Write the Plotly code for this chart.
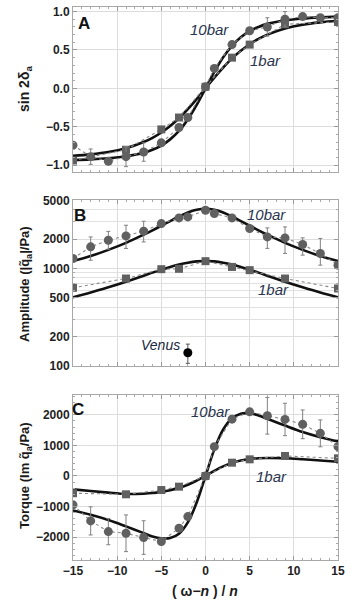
import plotly.graph_objects as go

# ---------------- data ----------------
fit_x = [-15, -13, -11, -9, -7, -6, -5, -4, -3, -2, -1, 0, 1, 2, 3, 4, 5, 6, 7, 9, 11, 13, 15]

sin_fit_10 = [-0.935, -0.925, -0.91, -0.885, -0.84, -0.80, -0.745, -0.665, -0.555, -0.405, -0.215, 0,
              0.215, 0.405, 0.555, 0.665, 0.745, 0.80, 0.84, 0.885, 0.91, 0.925, 0.935]
sin_fit_1 = [-0.88, -0.86, -0.83, -0.78, -0.70, -0.645, -0.575, -0.49, -0.39, -0.27, -0.14, 0,
             0.14, 0.27, 0.39, 0.49, 0.575, 0.645, 0.70, 0.78, 0.83, 0.86, 0.88]
amp_fit_10 = [1190, 1340, 1550, 1830, 2220, 2460, 2740, 3060, 3410, 3750, 4000, 4100,
              4000, 3750, 3410, 3060, 2740, 2460, 2220, 1830, 1550, 1340, 1190]
amp_fit_1 = [505, 565, 640, 730, 840, 905, 970, 1035, 1095, 1145, 1180, 1190,
             1180, 1145, 1095, 1035, 970, 905, 840, 730, 640, 565, 505]
tq_fit_10 = [-1130, -1270, -1440, -1650, -1870, -1980, -2040, -2030, -1890, -1520, -870, 0,
             870, 1520, 1890, 2040, 2050, 1980, 1870, 1650, 1440, 1270, 1130]
tq_fit_1 = [-440, -490, -545, -590, -580, -560, -520, -465, -385, -285, -150, 0,
            165, 312, 428, 508, 557, 582, 590, 580, 546, 506, 466]

x10 = [-15, -13, -11, -9, -7, -5, -3, -2, 0, 1, 3, 5, 7, 9, 11, 13, 15]
x1 = [-15, -9, -5, -3, 0, 3, 5, 9, 15]

sin10 = [-0.74, -0.89, -0.95, -0.89, -0.83, -0.71, -0.51, -0.38, 0.02, 0.26, 0.57, 0.75, 0.80, 0.90, 0.935, 0.92, 0.92]
sin10_err = [0, 0.10, 0.02, 0.13, 0.12, 0.03, 0, 0, 0, 0, 0, 0, 0.12, 0.10, 0.03, 0.04, 0.04]
sin1 = [-0.94, -0.80, -0.535, -0.38, 0.02, 0.40, 0.57, 0.835, 0.865]

amp10 = [1262, 1663, 1945, 2153, 2409, 2885, 3296, 3376, 3955, 3656, 3296, 2564, 2105, 2055, 1758, 1420, 1080]
amp10_up = [0, 440, 455, 620, 640, 0, 0, 0, 0, 0, 0, 0, 500, 610, 300, 610, 0]
amp10_dn = [0, 450, 370, 550, 540, 0, 0, 0, 0, 0, 0, 0, 500, 630, 390, 340, 0]
amp1 = [632, 787, 981, 990, 1186, 1035, 959, 787, 622]

venus_x = [-2]
venus_amp = [136]
venus_up = [31]
venus_dn = [30]

tq10 = [-948, -1470, -1820, -1875, -2015, -2145, -1710, -1330, 0, 960, 1860, 2100, 1970, 1850, 1690, 1395, 960]
tq10_err = [0, 460, 430, 600, 550, 80, 0, 0, 0, 0, 0, 0, 600, 530, 470, 440, 0]
tq1 = [-565, -600, -460, -350, 0, 435, 545, 655, 578]

x_ticks = [-15, -10, -5, 0, 5, 10, 15]
x_ticktext = ["\u221215", "\u221210", "\u22125", "0", "5", "10", "15"]
sin_ticks = [-1.0, -0.5, 0.0, 0.5, 1.0]
sin_ticktext = ["\u22121.0", "\u22120.5", "0.0", "0.5", "1.0"]
amp_ticks = [100, 200, 500, 1000, 2000, 5000]
amp_ticktext = ["100", "200", "500", "1000", "2000", "5000"]
amp_minor = [300, 400, 600, 700, 800, 900, 3000, 4000]
tq_ticks = [-2000, -1000, 0, 1000, 2000]
tq_ticktext = ["\u22122000", "\u22121000", "0", "1000", "2000"]

# ---------------- style ----------------
FONT = "Liberation Sans, Arial, sans-serif"
MK = "#606060"
ERR = "#808080"
LBL = "#2a3550"
FIT = "#111111"

fig = go.Figure()

panels = [
    ("x", "y", sin_fit_10, sin_fit_1, sin10, dict(type="data", array=sin10_err, color=ERR, thickness=1, width=2), sin1),
    ("x2", "y2", amp_fit_10, amp_fit_1, amp10, dict(type="data", array=amp10_up, arrayminus=amp10_dn, color=ERR, thickness=1, width=2), amp1),
    ("x3", "y3", tq_fit_10, tq_fit_1, tq10, dict(type="data", array=tq10_err, color=ERR, thickness=1, width=2), tq1),
]

for xa, ya, f10, f1, d10, e10, d1 in panels:
    for f in (f10, f1):
        fig.add_trace(go.Scatter(x=fit_x, y=f, xaxis=xa, yaxis=ya, mode="lines",
                                 line=dict(color=FIT, width=2.6, shape="spline", smoothing=1.0),
                                 showlegend=False, hoverinfo="skip"))
    fig.add_trace(go.Scatter(x=x1, y=d1, xaxis=xa, yaxis=ya, mode="lines+markers",
                             line=dict(color="#8a8a8a", width=1.1, dash="dot"),
                             marker=dict(symbol="square", size=8, color=MK),
                             showlegend=False))
    fig.add_trace(go.Scatter(x=x10, y=d10, xaxis=xa, yaxis=ya, mode="lines+markers",
                             line=dict(color="#8a8a8a", width=1.1, dash="dot"),
                             marker=dict(symbol="circle", size=9, color=MK),
                             error_y=e10, showlegend=False))

fig.add_trace(go.Scatter(x=venus_x, y=venus_amp, xaxis="x2", yaxis="y2", mode="markers",
                         marker=dict(symbol="circle", size=9, color="#000000"),
                         error_y=dict(type="data", array=venus_up, arrayminus=venus_dn,
                                      color="#555555", thickness=1, width=2),
                         showlegend=False))

W, H = 358, 603
ML, MR, MT, MB = 73, 20, 7, 43
ph = H - MT - MB
pw = W - ML - MR

def dom(top_px, bot_px):
    return [(H - MB - bot_px) / ph, (H - MB - top_px) / ph]

TICKF = dict(family=FONT, size=12, color="#1e1e1e", weight="bold")
common_x = dict(range=[-15, 15], tickvals=x_ticks, ticktext=x_ticktext, showgrid=True,
                gridcolor="#dddddd", gridwidth=1, zeroline=False, showline=True, linecolor="#a8a8a8",
                linewidth=1, mirror="allticks", ticks="inside", ticklen=4, tickcolor="#999999",
                minor=dict(dtick=1, ticks="inside", ticklen=2, tickcolor="#aaaaaa", showgrid=False),
                tickfont=TICKF, automargin=False)
common_y = dict(showgrid=True, gridcolor="#dddddd", gridwidth=1, zeroline=False, showline=True,
                linecolor="#a8a8a8", linewidth=1, mirror="allticks", ticks="inside", ticklen=4,
                tickcolor="#999999", tickfont=TICKF, automargin=False)

fig.update_layout(
    width=W, height=H, margin=dict(l=ML, r=MR, t=MT, b=MB, pad=0, autoexpand=False),
    paper_bgcolor="white", plot_bgcolor="white",
    xaxis=dict(common_x, domain=[0, 1], anchor="y", showticklabels=False),
    xaxis2=dict(common_x, domain=[0, 1], anchor="y2", showticklabels=False),
    xaxis3=dict(common_x, domain=[0, 1], anchor="y3", showticklabels=True),
    yaxis=dict(common_y, domain=dom(7, 172), anchor="x", range=[-1.09, 1.06],
               tickvals=sin_ticks, ticktext=sin_ticktext,
               minor=dict(dtick=0.1, ticks="inside", ticklen=2, tickcolor="#aaaaaa", showgrid=False)),
    yaxis2=dict(common_y, domain=dom(200, 366), anchor="x2", type="log", range=[1.998, 3.702],
                tickvals=amp_ticks, ticktext=amp_ticktext,
                minor=dict(tickvals=amp_minor, ticks="inside", ticklen=2, tickcolor="#aaaaaa",
                           showgrid=True, gridcolor="#e2e2e2", gridwidth=1)),
    yaxis3=dict(common_y, domain=dom(395, 560), anchor="x3", range=[-2750, 2650],
                tickvals=tq_ticks, ticktext=tq_ticktext,
                minor=dict(dtick=200, ticks="inside", ticklen=2, tickcolor="#aaaaaa", showgrid=False)),
)

ann = []
def lab(text, x, y, xr, yr, size=15, color=LBL, italic=True, bold=False):
    t = text
    if italic:
        t = "<i>" + t + "</i>"
    if bold:
        t = "<b>" + t + "</b>"
    ann.append(dict(text=t, x=x, y=y, xref=xr, yref=yr, showarrow=False,
                    xanchor="center", yanchor="middle",
                    font=dict(family=FONT, size=size, color=color)))

lab("10bar", 0.5, 0.77, "x", "y")
lab("1bar", 6.8, 0.36, "x", "y")
lab("A", -13.7, 0.85, "x", "y", size=17, color="#111111", italic=False, bold=True)

lab("10bar", 6.9, 3.556, "x2", "y2")
lab("1bar", 7.7, 2.784, "x2", "y2")
lab("Venus", -5.1, 2.21, "x2", "y2", size=14, color="#1a2540")
lab("B", -14.2, 3.546, "x2", "y2", size=17, color="#111111", italic=False, bold=True)

lab("10bar", 0.6, 2100, "x3", "y3")
lab("1bar", 7.5, -20, "x3", "y3")
lab("C", -14.4, 2180, "x3", "y3", size=17, color="#111111", italic=False, bold=True)

# axis titles
def ytitle(text, y_px, size=14):
    ann.append(dict(text="<b>" + text + "</b>", x=(25 - ML) / pw, y=(H - MB - y_px) / ph,
                    xref="paper", yref="paper", showarrow=False, textangle=-90,
                    xanchor="center", yanchor="middle",
                    font=dict(family=FONT, size=size, color="#1a1a1a")))

ytitle("sin 2\u03b4<sub>a</sub>", 89)
ytitle("Amplitude (|q\u0303<sub>a</sub>|/Pa)", 284, size=13)
ytitle("Torque (Im q\u0303<sub>a</sub>/Pa)", 476, size=13)

ann.append(dict(text="<b>( \u03c9\u2212<i>n</i> ) / <i>n</i></b>", x=(205 - ML) / pw,
                y=(H - MB - 591) / ph, xref="paper", yref="paper", showarrow=False,
                xanchor="center", yanchor="middle",
                font=dict(family=FONT, size=14, color="#1a1a1a")))

fig.update_layout(annotations=ann)
fig.write_html("out.html", config={"displayModeBar": False},
               post_script=["document.body.style.margin='0';document.body.style.padding='0';"])
